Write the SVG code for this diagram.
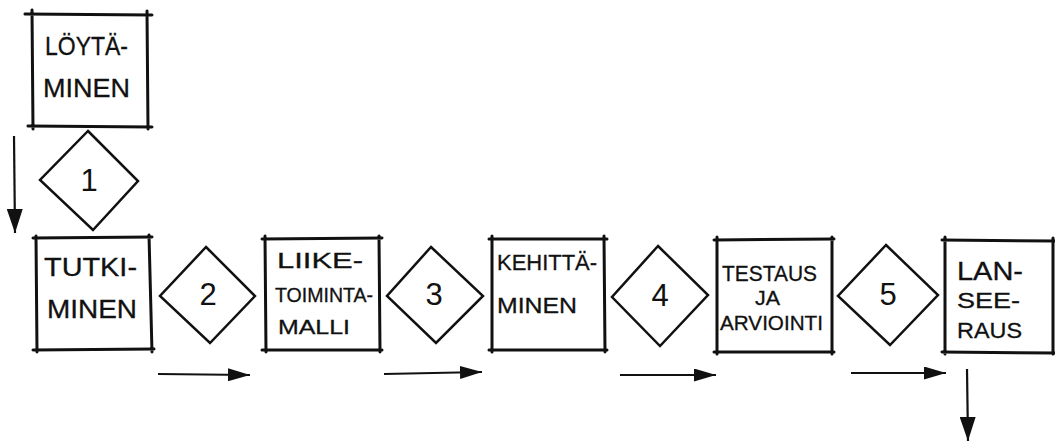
<svg xmlns="http://www.w3.org/2000/svg" width="1055" height="444" viewBox="0 0 1055 444">
<style>
.box{fill:none;stroke:#111;stroke-width:3;stroke-linecap:round}
.dia{fill:#fff;stroke:#111;stroke-width:2.5;stroke-linejoin:miter}
.t{font-family:"Liberation Sans",Arial,sans-serif;fill:#111;stroke:#111;stroke-width:0.3;font-size:20px}
.tl{font-size:25px}
.tm{font-size:22px}
.num{font-family:"Liberation Sans",Arial,sans-serif;fill:#111;font-size:31px;text-anchor:middle}
.arr{fill:none;stroke:#111;stroke-width:2.2}
</style>
<defs>
<marker id="ahv" viewBox="0 0 10 10" refX="10" refY="5" markerWidth="24" markerHeight="16" markerUnits="userSpaceOnUse" orient="auto" preserveAspectRatio="none">
<path d="M0,0 L10,5 L0,10 Z" fill="#111"/>
</marker>
<marker id="ahh" viewBox="0 0 10 10" refX="10" refY="5" markerWidth="22" markerHeight="13" markerUnits="userSpaceOnUse" orient="auto" preserveAspectRatio="none">
<path d="M0,0 L10,5 L0,10 Z" fill="#111"/>
</marker>
</defs>

<g id="connectors">
<line class="arr" x1="14" y1="136" x2="15" y2="233" marker-end="url(#ahv)"/>
<line class="arr" x1="158" y1="374" x2="250" y2="375" marker-end="url(#ahh)"/>
<line class="arr" x1="384" y1="374" x2="482" y2="372" marker-end="url(#ahh)"/>
<line class="arr" x1="620" y1="375" x2="716" y2="375" marker-end="url(#ahh)"/>
<line class="arr" x1="851" y1="373" x2="946" y2="373" marker-end="url(#ahh)"/>
<line class="arr" x1="967" y1="369" x2="968" y2="441" marker-end="url(#ahv)"/>
</g>

<g id="n-loytaminen">
<path class="box" d="M25,14 L152,15 M32,10 L33,129 M147,11 L148,129 M28,126 L152,127"/>
<text class="t tl" x="45" y="55" textLength="83" lengthAdjust="spacingAndGlyphs">LÖYTÄ-</text>
<text class="t tl" x="43" y="97" textLength="87" lengthAdjust="spacingAndGlyphs">MINEN</text>
</g>

<g id="n-1">
<polygon class="dia" points="88,131 138,181 93,230 40,180"/>
<text class="num" x="89" y="191">1</text>
</g>

<g id="n-tutkiminen">
<path class="box" d="M33,238 L152,237 M36,236 L37,352 M149,235 L152,352 M33,350 L154,349"/>
<text class="t tl" x="44" y="276" textLength="93" lengthAdjust="spacingAndGlyphs">TUTKI-</text>
<text class="t tl" x="47" y="318" textLength="90" lengthAdjust="spacingAndGlyphs">MINEN</text>
</g>

<g id="n-2">
<polygon class="dia" points="206,247 255,296 210,343 160,296"/>
<text class="num" x="208" y="305">2</text>
</g>

<g id="n-liiketoimintamalli">
<path class="box" d="M262,239 L382,238 M265,236 L266,352 M379,236 L380,352 M262,350 L382,350"/>
<text class="t tm" x="277" y="268" textLength="86" lengthAdjust="spacingAndGlyphs">LIIKE-</text>
<text class="t" x="275" y="302" textLength="98" lengthAdjust="spacingAndGlyphs">TOIMINTA-</text>
<text class="t" x="278" y="334" textLength="72" lengthAdjust="spacingAndGlyphs">MALLI</text>
</g>

<g id="n-3">
<polygon class="dia" points="431,247 483,296 436,343 387,296"/>
<text class="num" x="434" y="305">3</text>
</g>

<g id="n-kehittaminen">
<path class="box" d="M489,239 L607,239 M492,236 L492,352 M604,236 L605,352 M489,350 L607,350"/>
<text class="t tm" x="497" y="270" textLength="100" lengthAdjust="spacingAndGlyphs">KEHITTÄ-</text>
<text class="t tm" x="497" y="313" textLength="80" lengthAdjust="spacingAndGlyphs">MINEN</text>
</g>

<g id="n-4">
<polygon class="dia" points="658,246 708,295 660,346 612,297"/>
<text class="num" x="660" y="306">4</text>
</g>

<g id="n-testaus">
<path class="box" d="M714,240 L834,239 M717,237 L717,354 M832,237 L832,354 M714,352 L834,352"/>
<text class="t tm" x="722" y="281" textLength="95" lengthAdjust="spacingAndGlyphs">TESTAUS</text>
<text class="t" x="755" y="305" textLength="25" lengthAdjust="spacingAndGlyphs">JA</text>
<text class="t" x="720" y="330" textLength="103" lengthAdjust="spacingAndGlyphs">ARVIOINTI</text>
</g>

<g id="n-5">
<polygon class="dia" points="886,245 938,295 890,345 838,296"/>
<text class="num" x="888" y="305">5</text>
</g>

<g id="n-lanseeraus">
<path class="box" d="M942,240 L1058,241 M945,237 L945,354 M1053,238 L1053,354 M942,352 L1058,353"/>
<text class="t tl" x="957" y="280" textLength="66" lengthAdjust="spacingAndGlyphs">LAN-</text>
<text class="t tm" x="957" y="308" textLength="63" lengthAdjust="spacingAndGlyphs">SEE-</text>
<text class="t tm" x="957" y="338" textLength="65" lengthAdjust="spacingAndGlyphs">RAUS</text>
</g>
</svg>
